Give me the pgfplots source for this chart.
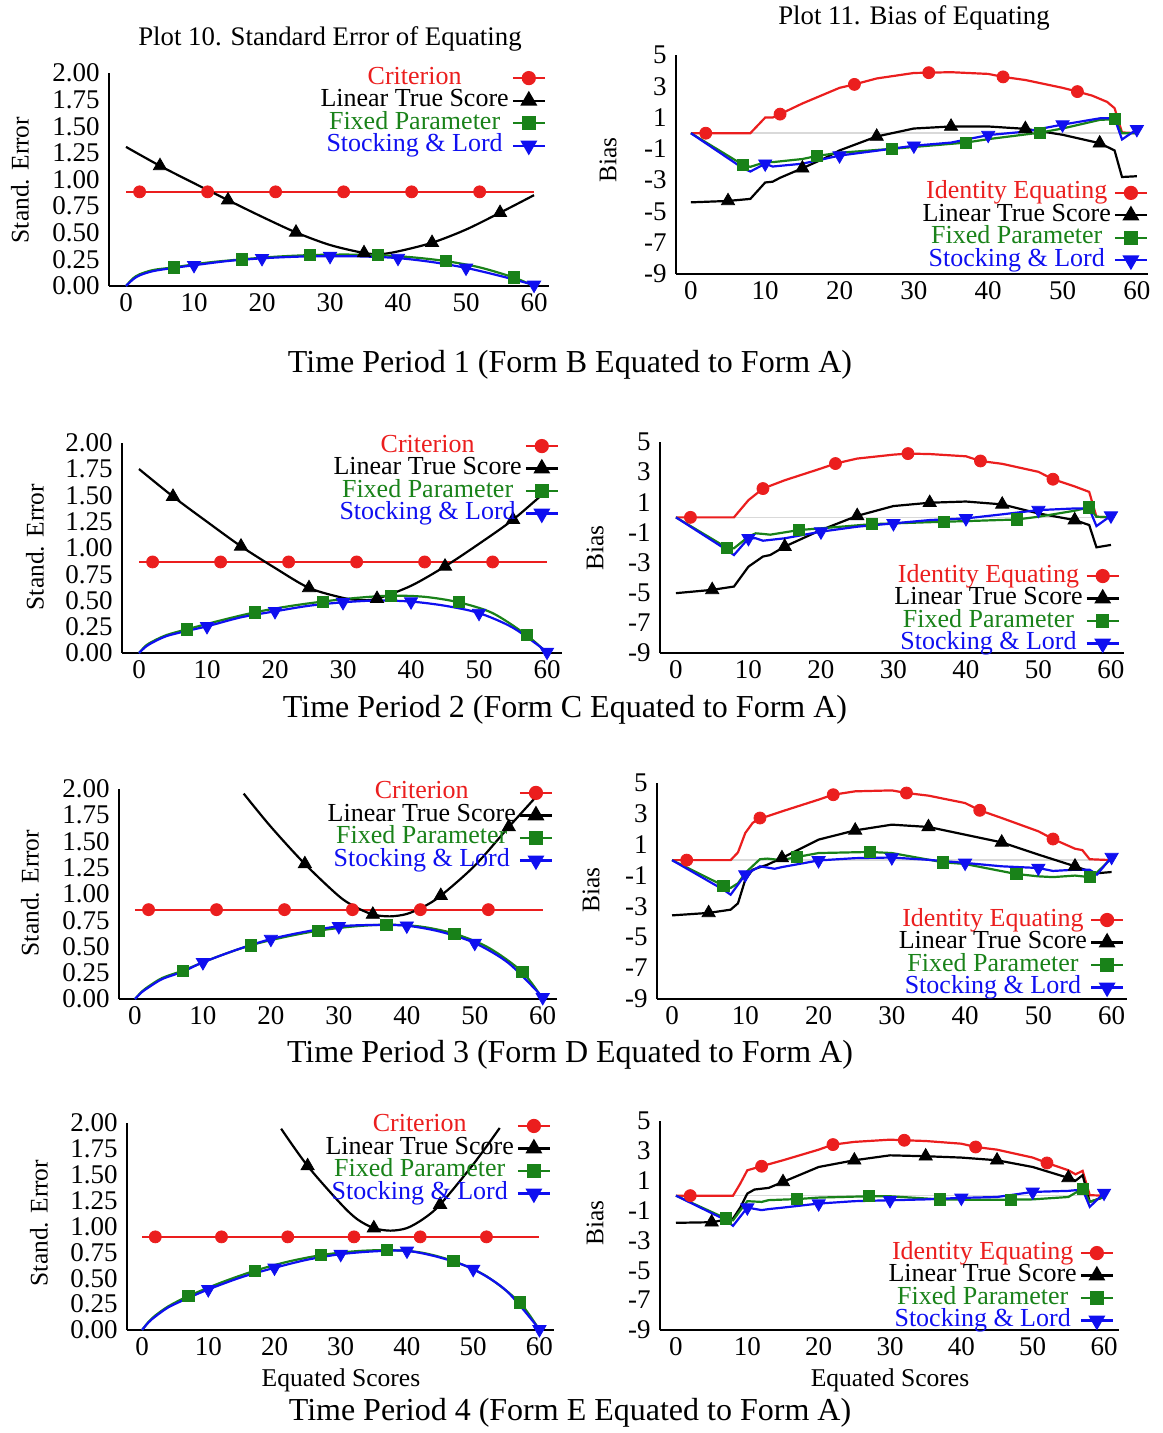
\documentclass[border=0pt]{standalone}
\usepackage{fontspec}
\setmainfont{Liberation Serif}
\usepackage{pgfplots}
\pgfplotsset{compat=1.18}
\definecolor{redc}{RGB}{235,30,30}
\definecolor{greenc}{RGB}{25,130,25}
\definecolor{bluec}{RGB}{15,15,240}
\pgfplotsset{
  base/.style={
    scale only axis, clip=false,
    axis x line=bottom, axis y line=left,
    axis line style={-, line width=1.4pt, black},
    major tick length=0pt,
    tick style={draw=none},
    xtick={0,10,20,30,40,50,60},
    xticklabels={0,10,20,30,40,50,60},
    tick label style={font=\fontsize{13.5}{15}\selectfont, inner sep=0pt},
    yticklabel style={xshift=-4.5pt},
    xticklabel style={yshift=-3.5pt},
    legend cell align=center,
    legend plot pos=right,
    legend image code/.code={\draw[mark repeat=2,mark phase=2] plot coordinates {(0pt,0pt) (8pt,0pt) (16pt,0pt)};},
    legend style={draw=none, fill=none, inner sep=0pt, outer sep=0pt, anchor=north east,
      font=\fontsize{13}{15}\selectfont,
      nodes={inner sep=0pt, text height=8pt, text depth=2pt},
      row sep=1.25pt, column sep=1.5pt},
  },
  se/.style={base, ymin=0, ymax=2, ytick={0,0.25,0.5,0.75,1,1.25,1.5,1.75,2},
    yticklabels={0.00,0.25,0.50,0.75,1.00,1.25,1.50,1.75,2.00}},
  bias/.style={base, ymin=-9, ymax=5, ytick={-9,-7,-5,-3,-1,1,3,5},
    yticklabels={-9,-7,-5,-3,-1,1,3,5}},
  Lred/.style={redc, line width=1.1pt, mark=none, legend image post style={mark=*, mark size=3pt}},
  Mred/.style={redc, only marks, mark=*, mark size=3pt, forget plot},
  Lblack/.style={black, line width=1.1pt, mark=none, legend image post style={mark=triangle*, mark size=3.8pt}},
  Mblack/.style={black, only marks, mark=triangle*, mark size=3.8pt, forget plot},
  Lgreen/.style={greenc, line width=1.1pt, mark=none, legend image post style={mark=square*, mark size=2.8pt}},
  Mgreen/.style={greenc, only marks, mark=square*, mark size=2.8pt, forget plot},
  Lblue/.style={bluec, line width=1.1pt, mark=none, legend image post style={mark=triangle*, mark size=3.8pt, mark options={rotate=180}}},
  Mblue/.style={bluec, only marks, mark=triangle*, mark size=3.8pt, mark options={rotate=180}, forget plot},
  zeroline/.style={black!15, line width=0.8pt, forget plot},
}
\newcommand{\LegSE}{%
  \addlegendentry{\textcolor{redc}{Criterion}}
  \addlegendentry{Linear True Score}
  \addlegendentry{\textcolor{greenc}{Fixed Parameter}}
  \addlegendentry{\textcolor{bluec}{Stocking \& Lord}}}
\newcommand{\LegB}{%
  \addlegendentry{\textcolor{redc}{Identity Equating}}
  \addlegendentry{Linear True Score}
  \addlegendentry{\textcolor{greenc}{Fixed Parameter}}
  \addlegendentry{\textcolor{bluec}{Stocking \& Lord}}}
\begin{document}
\begin{tikzpicture}
\useasboundingbox (0,0) rectangle (581pt,-716.5pt);

% ---------- Panel 1: SE, Time Period 1
\begin{axis}[se, at={(54.5pt,-143pt)}, anchor=south west, width=220pt, height=106.5pt,
  xmin=-2.5, xmax=62.2, legend style={at={(0.993,1.023)}}]
\addplot[Lred] coordinates {(0,0.884)(60,0.884)};
\addplot[Mred] coordinates {(2,0.884)(12,0.884)(22,0.884)(32,0.884)(42,0.884)(52,0.884)};
\addplot[Lblack, smooth] coordinates {(0,1.306)(5,1.128)(10,0.965)(15,0.806)(20,0.65)(25,0.503)(30,0.385)(35,0.31)(37.5,0.3)(40,0.325)(45,0.406)(50,0.53)(55,0.688)(60,0.853)};
\addplot[Mblack] coordinates {(5,1.128)(15,0.806)(25,0.503)(35,0.31)(45,0.406)(55,0.688)};
\addplot[Lgreen, smooth] coordinates {(0,0)(1,0.07)(2,0.11)(4,0.15)(7,0.175)(12,0.22)(17,0.25)(22,0.275)(27,0.29)(32,0.295)(37,0.29)(42,0.27)(47,0.234)(52,0.175)(57,0.08)(60,0.0)};
\addplot[Mgreen] coordinates {(7,0.175)(17,0.25)(27,0.29)(37,0.29)(47,0.234)(57,0.08)};
\addplot[Lblue, smooth] coordinates {(0,0)(1,0.06)(2,0.1)(4,0.14)(7,0.17)(10,0.195)(15,0.235)(20,0.26)(25,0.275)(30,0.28)(35,0.277)(40,0.262)(45,0.225)(50,0.17)(55,0.095)(60,0.01)};
\addplot[Mblue] coordinates {(10,0.195)(20,0.26)(30,0.28)(40,0.262)(50,0.17)(60,0.01)};
\LegSE
\end{axis}

% ---------- Panel 2: Bias, Time Period 1
\begin{axis}[bias, at={(338pt,-137pt)}, anchor=south west, width=236pt, height=109.5pt,
  xmin=-2.0, xmax=61.5, legend style={at={(1.0,0.416)}}]
\addplot[zeroline] coordinates {(0,0)(60,0)};
\addplot[Lred] coordinates {(0,0)(8,0)(9,0.5)(10,1.0)(11,1.0)(12,1.22)(15,1.9)(20,2.9)(22,3.12)(25,3.5)(30,3.85)(32,3.87)(35,3.9)(40,3.79)(42,3.6)(45,3.4)(50,2.9)(52,2.66)(54,2.4)(56,2.0)(57,1.6)(58,0.05)(60,0)};
\addplot[Mred] coordinates {(2,0)(12,1.22)(22,3.12)(32,3.87)(42,3.6)(52,2.66)};
\addplot[Lblack] coordinates {(0,-4.42)(5,-4.33)(8,-4.2)(10,-3.15)(11,-3.1)(12,-2.85)(15,-2.24)(18,-1.6)(20,-1.1)(25,-0.21)(30,0.3)(35,0.43)(40,0.43)(45,0.28)(50,-0.1)(55,-0.64)(57,-1.1)(58,-2.8)(60,-2.75)};
\addplot[Mblack] coordinates {(5,-4.33)(15,-2.24)(25,-0.21)(35,0.43)(45,0.28)(55,-0.64)};
\addplot[Lgreen] coordinates {(0,0)(7,-2.02)(8,-2.15)(10,-1.85)(11,-1.85)(12,-1.8)(15,-1.65)(17,-1.45)(20,-1.25)(27,-1.0)(30,-0.88)(37,-0.6)(40,-0.38)(47,0.04)(50,0.3)(55,0.85)(57,0.9)(58,0)(60,0)};
\addplot[Mgreen] coordinates {(7,-2.02)(17,-1.45)(27,-1.0)(37,-0.6)(47,0.04)(57,0.9)};
\addplot[Lblue] coordinates {(0,0)(7,-2.24)(8,-2.45)(10,-1.95)(11,-2.13)(15,-1.95)(20,-1.43)(25,-1.12)(30,-0.8)(35,-0.6)(40,-0.12)(45,0.1)(50,0.55)(55,0.95)(57,0.95)(58,-0.4)(60,0.25)};
\addplot[Mblue] coordinates {(10,-1.95)(20,-1.43)(30,-0.8)(40,-0.12)(50,0.55)(60,0.25)};
\LegB
\end{axis}

% ---------- Panel 3: SE, Time Period 2
\begin{axis}[se, at={(61pt,-326.5pt)}, anchor=south west, width=220pt, height=105pt,
  xmin=-2.5, xmax=62.2, legend style={at={(0.993,1.033)}}]
\addplot[Lred] coordinates {(0,0.867)(60,0.867)};
\addplot[Mred] coordinates {(2,0.867)(12,0.867)(22,0.867)(32,0.867)(42,0.867)(52,0.867)};
\addplot[Lblack, smooth] coordinates {(0,1.752)(5,1.49)(10,1.25)(15,1.016)(20,0.81)(25,0.62)(30,0.525)(32.5,0.505)(35,0.517)(40,0.64)(45,0.825)(50,1.04)(55,1.27)(60,1.55)};
\addplot[Mblack] coordinates {(5,1.49)(15,1.016)(25,0.62)(35,0.517)(45,0.825)(55,1.27)};
\addplot[Lgreen, smooth] coordinates {(0,0)(1,0.07)(2,0.11)(4,0.17)(7,0.225)(12,0.31)(17,0.387)(22,0.445)(27,0.49)(32,0.525)(37,0.546)(42,0.535)(47,0.483)(52,0.38)(57,0.17)(60,0)};
\addplot[Mgreen] coordinates {(7,0.225)(17,0.387)(27,0.49)(37,0.546)(47,0.483)(57,0.17)};
\addplot[Lblue, smooth] coordinates {(0,0)(1,0.06)(2,0.1)(4,0.16)(7,0.21)(10,0.254)(15,0.34)(20,0.397)(25,0.45)(30,0.483)(35,0.5)(40,0.49)(45,0.45)(50,0.38)(55,0.24)(60,0.01)};
\addplot[Mblue] coordinates {(10,0.254)(20,0.397)(30,0.483)(40,0.49)(50,0.38)(60,0.01)};
\LegSE
\end{axis}

% ---------- Panel 4: Bias, Time Period 2
\begin{axis}[bias, at={(330pt,-326.5pt)}, anchor=south west, width=232pt, height=105.5pt,
  xmin=-2.2, xmax=61.8, legend style={at={(0.991,0.412)}}]
\addplot[zeroline] coordinates {(0,0)(60,0)};
\addplot[Lred] coordinates {(0,0)(8,0)(10,1.14)(12,1.91)(15,2.46)(20,3.24)(22,3.57)(25,3.9)(30,4.16)(32,4.23)(35,4.2)(40,4.05)(42,3.74)(45,3.55)(50,3.02)(52,2.53)(55,2.05)(57,1.69)(58,0.04)(60,0)};
\addplot[Mred] coordinates {(2,0)(12,1.91)(22,3.57)(32,4.23)(42,3.74)(52,2.53)};
\addplot[Lblack] coordinates {(0,-5.03)(5,-4.81)(8,-4.59)(10,-3.27)(12,-2.6)(13,-2.5)(15,-1.94)(20,-0.84)(25,0.1)(30,0.75)(35,0.97)(40,1.05)(45,0.86)(50,0.26)(55,-0.18)(57,-0.51)(58,-1.99)(60,-1.83)};
\addplot[Mblack] coordinates {(5,-4.81)(15,-1.94)(25,0.1)(35,0.97)(45,0.86)(55,-0.18)};
\addplot[Lgreen] coordinates {(0,0)(7,-2.01)(8,-2.05)(10,-1.28)(11,-1.06)(12,-1.1)(13,-1.15)(17,-0.84)(20,-0.73)(27,-0.45)(30,-0.4)(37,-0.29)(40,-0.25)(47,-0.14)(50,0.04)(55,0.44)(57,0.66)(58,0.04)(60,0)};
\addplot[Mgreen] coordinates {(7,-2.01)(17,-0.84)(27,-0.45)(37,-0.29)(47,-0.14)(57,0.66)};
\addplot[Lblue] coordinates {(0,0)(7,-2.16)(8,-2.5)(10,-1.39)(11,-1.39)(12,-1.55)(15,-1.39)(20,-0.95)(25,-0.62)(30,-0.4)(35,-0.18)(40,-0.07)(45,0.2)(50,0.48)(55,0.59)(57,0.59)(58,-0.58)(60,0.11)};
\addplot[Mblue] coordinates {(10,-1.39)(20,-0.95)(30,-0.4)(40,-0.07)(50,0.48)(60,0.11)};
\LegB
\end{axis}

% ---------- Panel 5: SE, Time Period 3
\begin{axis}[se, at={(59.5pt,-499.5pt)}, anchor=south west, width=219pt, height=105pt,
  xmin=-2.35, xmax=62.1, legend style={at={(0.991,1.029)}}]
\addplot[Lred] coordinates {(0,0.851)(60,0.851)};
\addplot[Mred] coordinates {(2,0.851)(12,0.851)(22,0.851)(32,0.851)(42,0.851)(52,0.851)};
\addplot[Lblack, smooth] coordinates {(16,1.956)(20,1.64)(25,1.286)(30,0.98)(32.5,0.875)(35,0.805)(37.5,0.787)(40,0.81)(42.5,0.88)(45,0.984)(50,1.27)(55,1.638)(59.5,1.96)};
\addplot[Mblack] coordinates {(25,1.286)(35,0.805)(45,0.984)(55,1.638)};
\addplot[Lgreen, smooth] coordinates {(0,0)(1,0.07)(2,0.12)(4,0.2)(7,0.27)(12,0.4)(17,0.511)(22,0.59)(27,0.651)(32,0.69)(37,0.708)(42,0.69)(47,0.622)(52,0.49)(57,0.257)(60,0)};
\addplot[Mgreen] coordinates {(7,0.27)(17,0.511)(27,0.651)(37,0.708)(47,0.622)(57,0.257)};
\addplot[Lblue, smooth] coordinates {(0,0)(1,0.065)(2,0.11)(4,0.19)(7,0.26)(10,0.349)(15,0.47)(20,0.571)(25,0.64)(30,0.692)(35,0.705)(40,0.698)(45,0.64)(50,0.533)(55,0.34)(60,0.016)};
\addplot[Mblue] coordinates {(10,0.349)(20,0.571)(30,0.692)(40,0.698)(50,0.533)(60,0.016)};
\LegSE
\end{axis}

% ---------- Panel 6: Bias, Time Period 3
\begin{axis}[bias, at={(328.5pt,-499.5pt)}, anchor=south west, width=235pt, height=108pt,
  xmin=-2.05, xmax=62.1, legend style={at={(0.994,0.412)}}]
\addplot[zeroline] coordinates {(0,0)(60,0)};
\addplot[Lred] coordinates {(0,0)(8,0)(9,0.5)(10,1.76)(11,2.41)(12,2.73)(13,2.84)(15,3.16)(20,3.92)(22,4.24)(25,4.46)(30,4.52)(32,4.35)(35,4.18)(40,3.7)(42,3.23)(45,2.73)(50,1.87)(52,1.37)(55,0.74)(56,0.65)(57,0.06)(60,0)};
\addplot[Mred] coordinates {(2,0)(12,2.73)(22,4.24)(32,4.35)(42,3.23)(52,1.37)};
\addplot[Lblack] coordinates {(0,-3.58)(5,-3.42)(8,-3.21)(9,-2.8)(10,-1.26)(11,-0.62)(13,-0.3)(15,0.14)(20,1.33)(25,1.93)(30,2.3)(35,2.15)(40,1.65)(45,1.15)(50,0.36)(55,-0.4)(57,-0.72)(58,-0.85)(60,-0.77)};
\addplot[Mblack] coordinates {(5,-3.42)(15,0.14)(25,1.93)(35,2.15)(45,1.15)(55,-0.4)};
\addplot[Lgreen] coordinates {(0,0)(7,-1.65)(8,-1.8)(9,-1.5)(10,-0.83)(12,0.06)(13,0.1)(15,0.0)(17,0.2)(20,0.46)(27,0.53)(30,0.46)(37,-0.14)(40,-0.25)(47,-0.9)(50,-1.05)(52,-1.1)(55,-1.0)(57,-1.1)(58,-0.8)(60,0.13)};
\addplot[Mgreen] coordinates {(7,-1.65)(17,0.2)(27,0.53)(37,-0.14)(47,-0.9)(57,-1.1)};
\addplot[Lblue] coordinates {(0,0)(7,-1.91)(8,-2.24)(10,-0.94)(12,-0.4)(14,-0.56)(15,-0.45)(20,-0.02)(25,0.13)(30,0.17)(35,0.02)(40,-0.18)(45,-0.4)(50,-0.51)(52,-0.7)(55,-0.62)(57,-0.62)(58,-0.94)(60,0.2)};
\addplot[Mblue] coordinates {(10,-0.94)(20,-0.02)(30,0.17)(40,-0.18)(50,-0.51)(60,0.2)};
\LegB
\end{axis}

% ---------- Panel 7: SE, Time Period 4
\begin{axis}[se, at={(63.5pt,-665pt)}, anchor=south west, width=213.5pt, height=103.5pt,
  xmin=-2.27, xmax=62.2, legend style={at={(0.993,1.034)}}]
\addplot[Lred] coordinates {(0,0.9)(60,0.9)};
\addplot[Mred] coordinates {(2,0.9)(12,0.9)(22,0.9)(32,0.9)(42,0.9)(52,0.9)};
\addplot[Lblack, smooth] coordinates {(21,1.945)(25,1.585)(30,1.22)(32.5,1.07)(35,0.985)(37.5,0.96)(40,0.985)(42.5,1.075)(45,1.212)(50,1.6)(54,1.952)};
\addplot[Mblack] coordinates {(25,1.585)(35,0.985)(45,1.212)};
\addplot[Lgreen, smooth] coordinates {(0,0)(1,0.08)(2,0.14)(4,0.23)(7,0.328)(12,0.46)(17,0.572)(22,0.66)(27,0.723)(32,0.76)(37,0.772)(42,0.75)(47,0.666)(52,0.52)(57,0.267)(60,0)};
\addplot[Mgreen] coordinates {(7,0.328)(17,0.572)(27,0.723)(37,0.772)(47,0.666)(57,0.267)};
\addplot[Lblue, smooth] coordinates {(0,0)(1,0.075)(2,0.13)(4,0.22)(7,0.31)(10,0.392)(15,0.51)(20,0.601)(25,0.68)(30,0.733)(35,0.76)(40,0.765)(45,0.7)(50,0.588)(55,0.38)(60,0.006)};
\addplot[Mblue] coordinates {(10,0.392)(20,0.601)(30,0.733)(40,0.765)(50,0.588)(60,0.006)};
\LegSE
\end{axis}

% ---------- Panel 8: Bias, Time Period 4
\begin{axis}[bias, at={(330pt,-665pt)}, anchor=south west, width=229.5pt, height=104.5pt,
  xmin=-2.24, xmax=62.1, legend style={at={(0.989,0.416)}}]
\addplot[zeroline] coordinates {(0,0)(60,0)};
\addplot[Lred] coordinates {(0,0)(8,0)(9,0.8)(10,1.7)(12,1.97)(15,2.37)(20,3.08)(22,3.42)(25,3.6)(30,3.75)(32,3.71)(35,3.66)(40,3.48)(42,3.26)(45,3.08)(50,2.55)(52,2.19)(55,1.7)(56,1.43)(57,1.66)(58,0.03)(60,0)};
\addplot[Mred] coordinates {(2,0)(12,1.97)(22,3.42)(32,3.71)(42,3.26)(52,2.19)};
\addplot[Lblack] coordinates {(0,-1.82)(5,-1.78)(8,-1.53)(9,-0.8)(10,0.14)(11,0.41)(13,0.52)(15,0.92)(20,1.92)(25,2.37)(30,2.7)(35,2.64)(40,2.55)(45,2.37)(50,1.92)(55,1.19)(56,1.0)(57,1.37)(58,-0.42)(60,-0.09)};
\addplot[Mblack] coordinates {(5,-1.78)(15,0.92)(25,2.37)(35,2.64)(45,2.37)(55,1.19)};
\addplot[Lgreen] coordinates {(0,0)(7,-1.53)(8,-1.65)(9,-1.0)(10,-0.37)(12,-0.42)(13,-0.3)(17,-0.23)(20,-0.13)(27,-0.04)(30,-0.04)(37,-0.25)(40,-0.27)(47,-0.27)(50,-0.25)(55,-0.09)(57,0.47)(58,-0.42)(60,-0.09)};
\addplot[Mgreen] coordinates {(7,-1.53)(17,-0.23)(27,-0.04)(37,-0.25)(47,-0.27)(57,0.47)};
\addplot[Lblue] coordinates {(0,0)(7,-1.64)(8,-2.02)(10,-0.8)(12,-0.97)(13,-0.9)(15,-0.8)(20,-0.53)(25,-0.37)(30,-0.31)(35,-0.25)(40,-0.15)(45,-0.09)(50,0.25)(55,0.32)(57,0.41)(58,-0.75)(60,0.18)};
\addplot[Mblue] coordinates {(10,-0.8)(20,-0.53)(30,-0.31)(40,-0.15)(50,0.25)(60,0.18)};
\LegB
\end{axis}

% ---------- Titles, labels, captions
\node[font=\fontsize{13.4}{15}\selectfont] at (165pt,-19.5pt) {Plot 10. Standard Error of Equating};
\node[font=\fontsize{13.4}{15}\selectfont] at (457pt,-9pt) {Plot 11. Bias of Equating};
\begin{scope}[every node/.style={font=\fontsize{12.7}{14}\selectfont, rotate=90}]
\node at (10pt,-90pt) {Stand. Error};
\node at (304pt,-80pt) {Bias};
\node at (17.5pt,-273.5pt) {Stand. Error};
\node at (297.5pt,-274pt) {Bias};
\node at (15pt,-446.5pt) {Stand. Error};
\node at (295.5pt,-445pt) {Bias};
\node at (19.5pt,-611.5pt) {Stand. Error};
\node at (297.5pt,-611.5pt) {Bias};
\end{scope}
\node[font=\fontsize{12.8}{14}\selectfont] at (170.5pt,-690pt) {Equated Scores};
\node[font=\fontsize{12.8}{14}\selectfont] at (445pt,-690pt) {Equated Scores};
\begin{scope}[every node/.style={font=\fontsize{16}{18}\selectfont}]
\node at (285pt,-182.5pt) {Time Period 1 (Form B Equated to Form A)};
\node at (282.5pt,-355pt) {Time Period 2 (Form C Equated to Form A)};
\node at (285pt,-527.5pt) {Time Period 3 (Form D Equated to Form A)};
\node at (285pt,-706.5pt) {Time Period 4 (Form E Equated to Form A)};
\end{scope}
\end{tikzpicture}
\end{document}
